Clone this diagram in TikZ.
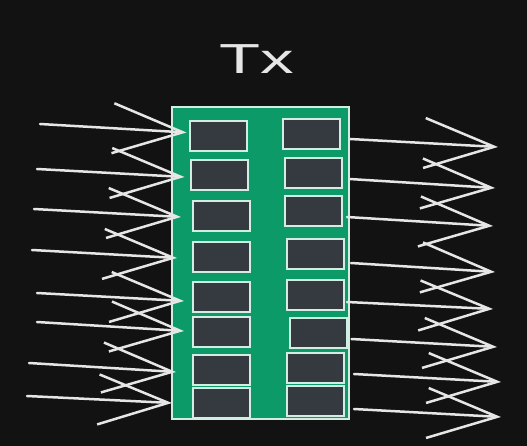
\documentclass[tikz,border=0pt]{standalone}
\usepackage{fontspec}
\setmainfont{Liberation Sans}
\usetikzlibrary{arrows.meta}
\definecolor{bgcol}{HTML}{121212}
\definecolor{boardcol}{HTML}{0C9A68}
\definecolor{cellcol}{HTML}{343A40}
\definecolor{edgecol}{HTML}{D2EEE2}
\definecolor{linecol}{HTML}{E6E6E6}
\begin{document}
\begin{tikzpicture}[x=1pt,y=-1pt,
    board/.style={draw=edgecol, fill=boardcol, line width=2pt, minimum width=177pt, minimum height=312pt, inner sep=0pt},
    cell/.style={draw=edgecol, fill=cellcol, line width=2pt, minimum width=57pt, minimum height=30pt, inner sep=0pt},
    arr/.style={draw=linecol, line width=2.5pt, line cap=round, line join=round, -{Straight Barb[length=70pt,width=50pt]}}]
        \fill[bgcol] (0,0) rectangle (527,446);
        \useasboundingbox (0,0) rectangle (527,446);

        \node[text=linecol, font=\fontsize{42}{42}\selectfont] (title) at (257,59) {\scalebox{1.6}[1]{Tx}};

        \node[board] (board) at (260.5,263) {};

        \node[cell] (L1) at (218,136.5) {};
        \node[cell] (L2) at (219,175.5) {};
        \node[cell] (L3) at (221.5,216) {};
        \node[cell] (L4) at (221.5,257) {};
        \node[cell] (L5) at (221.5,297) {};
        \node[cell] (L6) at (221.5,332) {};
        \node[cell] (L7) at (221.5,369.5) {};
        \node[cell] (L8) at (221.5,402.5) {};

        \node[cell] (R1) at (311.5,134) {};
        \node[cell] (R2) at (313,173.5) {};
        \node[cell] (R3) at (313.5,211) {};
        \node[cell] (R4) at (315.5,254) {};
        \node[cell] (R5) at (315.5,295) {};
        \node[cell] (R6) at (318,332.5) {};
        \node[cell] (R7) at (315.5,368) {};
        \node[cell] (R8) at (315.5,400.5) {};

        \coordinate (in1) at (40,124);
        \coordinate (in2) at (37,169);
        \coordinate (in3) at (34,209);
        \coordinate (in4) at (32,250);
        \coordinate (in5) at (37,293);
        \coordinate (in6) at (37,322);
        \coordinate (in7) at (29,363);
        \coordinate (in8) at (27,396);

        \coordinate (out1) at (498,147);
        \coordinate (out2) at (495,188);
        \coordinate (out3) at (493,226);
        \coordinate (out4) at (495,272);
        \coordinate (out5) at (493,309);
        \coordinate (out6) at (497,347);
        \coordinate (out7) at (501,382);
        \coordinate (out8) at (501,417);

        % inputs
        \draw[arr] (in1) -- ([shift={(-2,-4)}]L1.west);
        \draw[arr] (in2) -- ([shift={(-5,1.5)}]L2.west);
        \draw[arr] (in3) -- ([shift={(-11,1)}]L3.west);
        \draw[arr] (in4) -- ([shift={(-15,1)}]L4.west);
        \draw[arr] (in5) -- ([shift={(-8,4)}]L5.west);
        \draw[arr] (in6) -- ([shift={(-8,-1)}]L6.west);
        \draw[arr] (in7) -- ([shift={(-16,2.5)}]L7.west);
        \draw[arr] (in8) -- ([shift={(-20,0.5)}]L8.west);

        % outputs
        \draw[arr] ([shift={(9,5)}]R1.east) -- (out1);
        \draw[arr] ([shift={(7,5.5)}]R2.east) -- (out2);
        \draw[arr] ([shift={(4,6)}]R3.east) -- (out3);
        \draw[arr] ([shift={(6,9)}]R4.east) -- (out4);
        \draw[arr] ([shift={(2,7)}]R5.east) -- (out5);
        \draw[arr] ([shift={(4,6.5)}]R6.east) -- (out6);
        \draw[arr] ([shift={(9,6)}]R7.east) -- (out7);
        \draw[arr] ([shift={(9,8.5)}]R8.east) -- (out8);
    \end{tikzpicture}
\end{document}
